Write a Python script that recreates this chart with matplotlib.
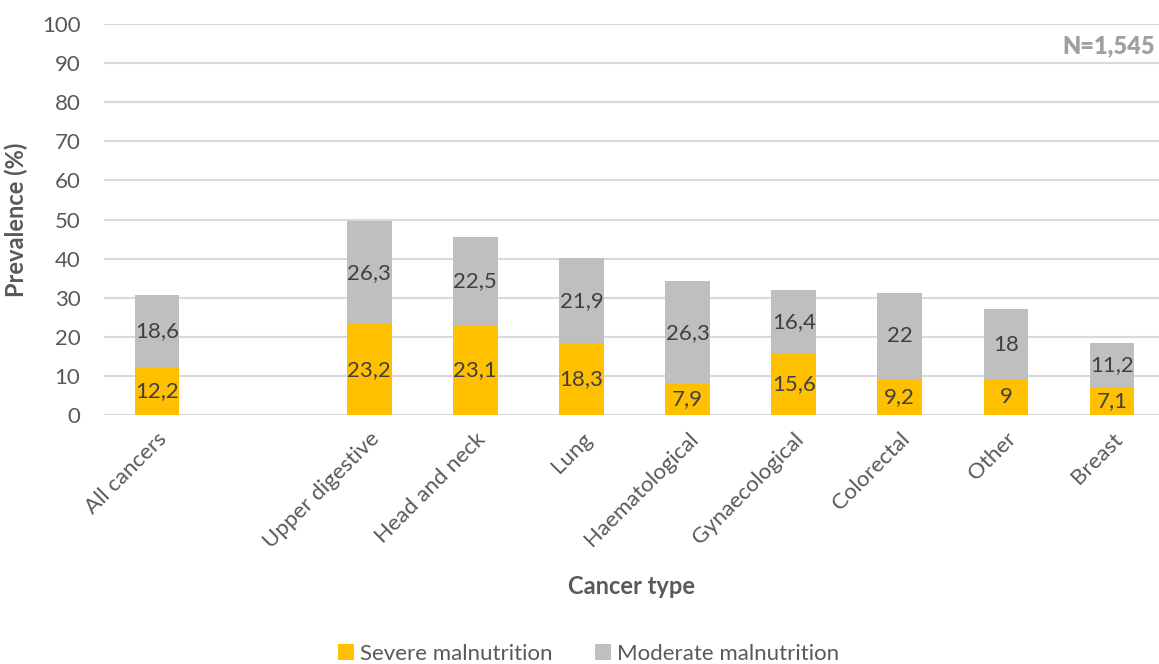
import numpy as np
import matplotlib
matplotlib.use('Agg')
import matplotlib.pyplot as plt

plt.rcParams['font.family'] = ['Lato', 'DejaVu Sans']

# data (empty slot between "All cancers" and the rest)
categories = ['All cancers', '', 'Upper digestive', 'Head and neck', 'Lung',
              'Haematological', 'Gynaecological', 'Colorectal', 'Other', 'Breast']
severe = [12.2, np.nan, 23.2, 23.1, 18.3, 7.9, 15.6, 9.2, 9, 7.1]
moderate = [18.6, np.nan, 26.3, 22.5, 21.9, 26.3, 16.4, 22, 18, 11.2]

yellow = '#FFC000'
grey = '#BFBFBF'
txt = '#404040'
tick_col = '#595959'

fig = plt.figure(figsize=(11.59, 6.64), dpi=100)
ax = fig.add_axes([104 / 1159, 249 / 664, 1055 / 1159, 391 / 664])

x = np.arange(len(categories))
w = 0.42
b1 = ax.bar(x, severe, w, color=yellow, label='Severe malnutrition', zorder=3)
b2 = ax.bar(x, moderate, w, bottom=severe, color=grey,
            label='Moderate malnutrition', zorder=3)

def fmt(v):
    return '{:g}'.format(v).replace('.', ',')

for i in range(len(categories)):
    if np.isnan(severe[i]):
        continue
    ax.text(x[i], severe[i] / 2, fmt(severe[i]), ha='center', va='center',
            fontsize=16, color=txt, zorder=4)
    ax.text(x[i], severe[i] + moderate[i] / 2, fmt(moderate[i]), ha='center',
            va='center', fontsize=16, color=txt, zorder=4)

ax.set_ylim(0, 100)
ax.set_yticks(np.arange(0, 101, 10))
ax.set_xlim(-0.5, 9.5 - 6 / 106)
ax.set_xticks(x)
ax.set_xticklabels(categories, rotation=45, ha='right', rotation_mode='anchor')
ax.tick_params(axis='both', length=0, labelsize=16, colors=tick_col)
ax.tick_params(axis='y', pad=17)
ax.tick_params(axis='x', pad=10)

ax.yaxis.grid(True, color='#D9D9D9', linewidth=1.5, zorder=0)
for s in ax.spines.values():
    s.set_visible(False)

ax.set_ylabel('Prevalence (%)', fontsize=17, fontweight='bold', color=tick_col)
ax.yaxis.set_label_coords(-76 / 1055, 0.5)
ax.set_xlabel('Cancer type', fontsize=17, fontweight='bold', color=tick_col)
ax.xaxis.set_label_coords(0.5, -160 / 391)

fig.text(1155 / 1159, 1 - 46 / 664, 'N=1,545', ha='right', va='center',
         fontsize=17, fontweight='heavy', color='#A0A0A0')

leg = fig.legend(handles=[b1, b2], loc='center', bbox_to_anchor=(0.508, 10 / 664),
                 ncol=2, frameon=False, fontsize=16, handlelength=0.7,
                 handleheight=0.7, handletextpad=0.3, columnspacing=1.9)
for t in leg.get_texts():
    t.set_color(tick_col)

fig.savefig('out.png', dpi=100)
